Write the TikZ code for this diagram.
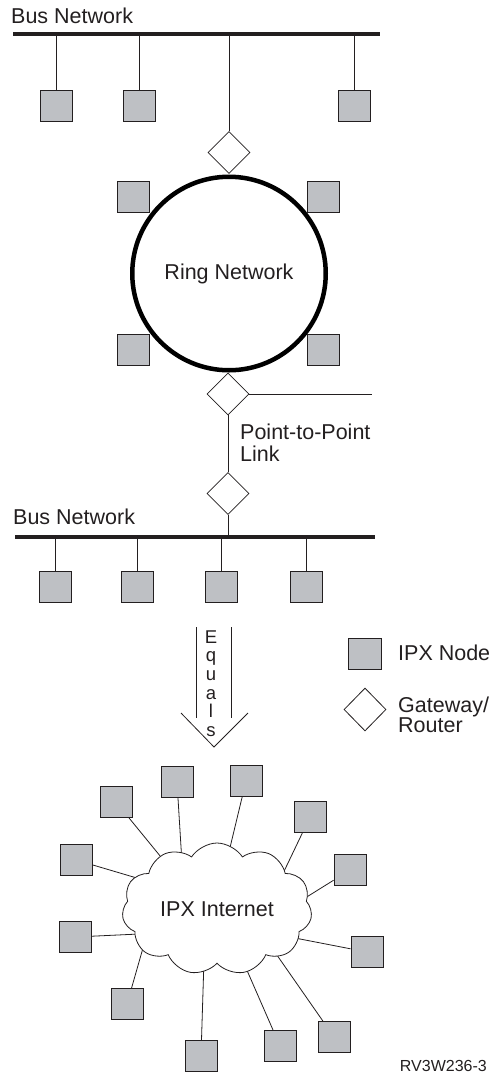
\documentclass[tikz,border=0pt]{standalone}
\usepackage{fontspec}
\setmainfont{Liberation Sans}
\usetikzlibrary{shapes.geometric,shapes.symbols,calc,backgrounds}
\definecolor{boxgray}{RGB}{190,192,196}
\definecolor{inkgray}{RGB}{35,31,32}

\begin{document}
\begin{tikzpicture}[x=1pt,y=-1pt,
        ipx/.style={draw=inkgray,fill=boxgray,line width=0.9pt,minimum width=32pt,minimum height=31pt,inner sep=0pt},
        gateway/.style={diamond,draw=inkgray,fill=white,line width=0.8pt,minimum width=42pt,minimum height=42pt,inner sep=0pt},
        link/.style={draw=inkgray,line width=0.8pt},
        bus/.style={draw=inkgray,line width=4pt},
        txt/.style={font=\fontsize{21.5}{22}\selectfont,text=inkgray,inner sep=0pt},
        small/.style={font=\fontsize{16}{16}\selectfont,text=inkgray,inner sep=0pt}]
        \useasboundingbox (0,0) rectangle (491,1074);
        % top bus
        \coordinate (topbus-w) at (13,33.5);
        \coordinate (topbus-e) at (380,33.5);
        \draw[bus] (topbus-w) -- (topbus-e);
        \node[txt,anchor=base west] (topbus-label) at (11,23) {Bus Network};
        \foreach
        \n/\x in {t1/56,t2/139,t3/354} {\node[ipx] (\n) at (\x,105.5) {}; \draw[link] (\n) -- (\n |- topbus-w);}
        % ring
        \node[gateway] (gw1) at (229,152.5) {};
        \draw[link] (gw1) -- (gw1 |- topbus-w);
        \node[circle,draw=black,line width=4.5pt,minimum size=193.5pt,txt] (ring) at (229,273.5) {Ring Network};
        \foreach
        \n/\x/\y in {r1/133.5/197,r2/323.5/197,r3/133.5/350,r4/323.5/350} {\node[ipx] (\n) at (\x,\y) {};}
        \node[gateway] (gw2) at (228,394) {};
        \coordinate (link-e) at (372,394);
        \draw[link] (gw2) -- (link-e);
        % point-to-point link
        \node[gateway] (gw3) at (228,493.5) {};
        \draw[link] (gw2) -- (gw3);
        \node[txt,anchor=base west] (p2p-a) at (240,439) {Point-to-Point};
        \node[txt,anchor=base west] (p2p-b) at (240,461) {Link};
        % lower bus
        \coordinate (lowbus-w) at (15,536.5);
        \coordinate (lowbus-e) at (375,536.5);
        \draw[bus] (lowbus-w) -- (lowbus-e);
        \draw[link] (gw3) -- (gw3 |- lowbus-w);
        \node[txt,anchor=base west] (lowbus-label) at (13,524) {Bus Network};
        \foreach
        \n/\x in {l1/55,l2/137,l3/221.5,l4/306} {\node[ipx] (\n) at (\x,587) {}; \draw[link] (\n) -- (\n |- lowbus-w);}
        % equals arrow
        \draw[link] (196,627) -- (196,718);
        \draw[link] (231,627) -- (231,718);
        \draw[link] (181,713) -- (214,747) -- (248,713);
        \foreach
        \c [count=\i] in {E,q,u,a,l,s} {\node[small,font=\fontsize{18.5}{18}\selectfont,anchor=base] (eq\i) at (211,{643+18.7*(\i-1)}) {\c};}
        % legend
        \node[ipx,minimum width=33pt] (key-node) at (365,653.5) {};
        \node[txt,anchor=base west] (key-node-label) at (398,660) {IPX Node};
        \node[gateway,minimum height=43pt] (key-gw) at (365,709.5) {};
        \node[txt,anchor=base west] (key-gw-a) at (398,712) {Gateway/};
        \node[txt,anchor=base west] (key-gw-b) at (398,732) {Router};
        % internet
        \node[cloud,draw=inkgray,fill=white,line width=0.8pt,cloud puffs=11,cloud puff arc=115,cloud ignores aspect,minimum width=190pt,minimum height=132pt,txt] (net) at (217,909) {IPX Internet};
        \foreach
        \n/\x/\y/\a in {c1/116/802/137,c2/177/782/122,c3/246/781/78,c4/310/817/30,c5/350/870/8,c6/367/952/-20,c7/334/1037/-38,c8/280/1046/-64,c9/201/1056/-102,c10/127/1004/209,c11/75/937/197,c12/76/860/159} {
            \node[ipx] (\n) at (\x,\y) {};
            \begin{pgfonlayer}{background}
                \draw[link] (\n) -- ($(\n)!1.15!(net.\a)$);
            \end{pgfonlayer}
        }
        \node[small,anchor=base east] (fig-id) at (487,1071) {RV3W236-3};
    \end{tikzpicture}
\end{document}
